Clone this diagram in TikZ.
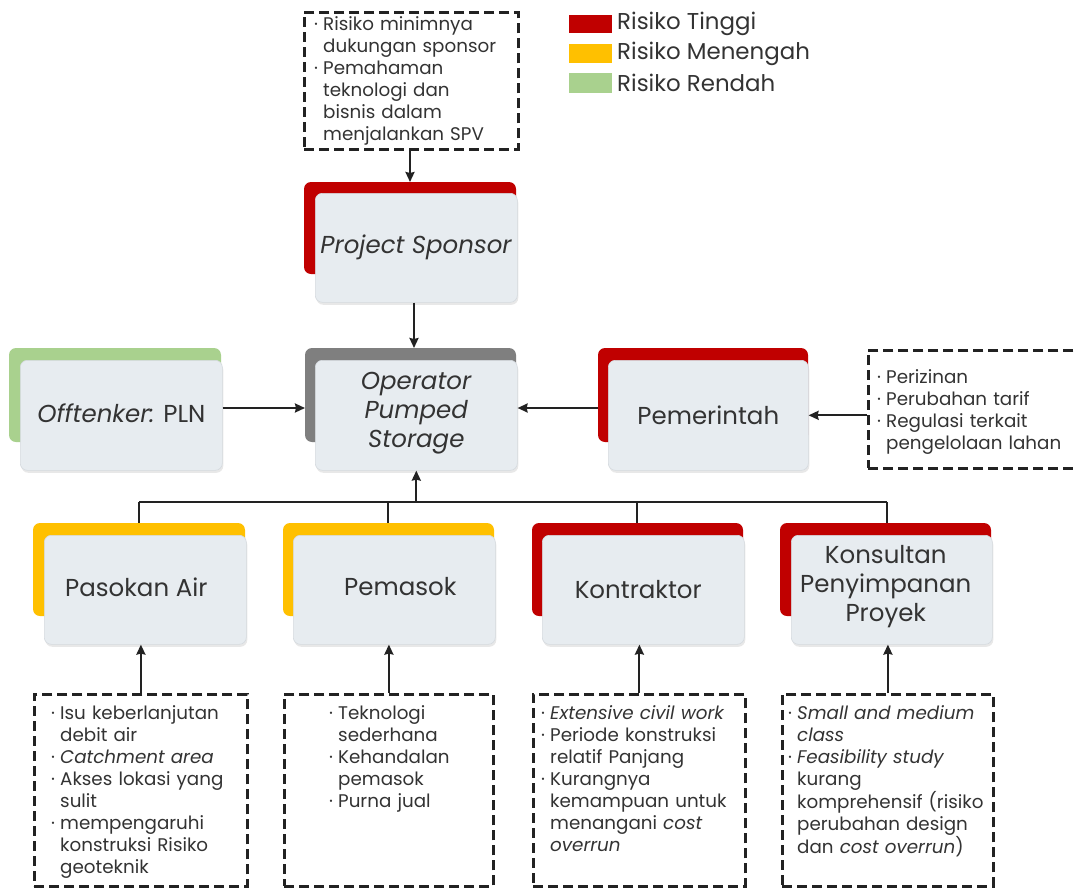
\documentclass[tikz,border=0pt]{standalone}
\usepackage{fontspec}
\setmainfont{Poppins}
\usetikzlibrary{arrows.meta,shadows,calc}
\definecolor{rTinggi}{HTML}{C00000}
\definecolor{rSedang}{HTML}{FFC000}
\definecolor{rRendah}{HTML}{A9D18E}
\definecolor{rNetral}{HTML}{7F7F7F}
\definecolor{frontfill}{HTML}{E7ECF0}
\definecolor{frontline}{HTML}{D5DADF}
\definecolor{ink}{HTML}{222222}
\definecolor{txt}{HTML}{333333}
\newcommand{\bfs}{\fontsize{18.3}{22}\selectfont}
\newcommand{\itm}[1]{\par\noindent\hangindent=9pt\hangafter=1\strut\makebox[9pt][l]{·}#1\par}
\tikzset{
  backbox/.style={rounded corners=7pt},
  frontbox/.style={draw=frontline, line width=0.6pt, fill=frontfill, rounded corners=7pt,
    drop shadow={opacity=0.18, shadow xshift=1pt, shadow yshift=-2.5pt}},
  maintext/.style={text=txt, font=\fontsize{24.5}{29}\selectfont, align=center},
  riskbox/.style={draw=ink, line width=2.8pt, dash pattern=on 10pt off 5pt},
  bultext/.style={text=txt, font=\bfs, align=left, inner sep=0pt, anchor=north west, text width=205pt},
  arr/.style={draw=ink, line width=2.1pt, -{Stealth[length=10pt,width=9pt,inset=1pt]}},
  bus/.style={draw=ink, line width=1.6pt},
  legtext/.style={text=txt, font=\fontsize{22.9}{26}\selectfont, anchor=west, inner sep=0pt},
}
\begin{document}
\begin{tikzpicture}[x=1pt,y=-1pt]
\useasboundingbox (0,0) rectangle (1077,889);
\fill[white] (0,0) rectangle (1077,889);

% legend
\fill[rTinggi] (569,15) rectangle (612,33);
\node[legtext] (lg1) at (617,24) {Risiko Tinggi};
\fill[rSedang] (569,44) rectangle (612,63);
\node[legtext] (lg2) at (617,54) {Risiko Menengah};
\fill[rRendah] (569,73) rectangle (612,93);
\node[legtext] (lg3) at (617,83) {Risiko Rendah};

% Project Sponsor
\path[backbox, fill=rTinggi] (304,182) rectangle (516,274);
\coordinate (psB) at (410,182);
\node[frontbox, minimum width=202pt, minimum height=109pt, anchor=north west] (ps) at (315,193) {};
\node[maintext] (pst) at (ps.center) {\textit{Project Sponsor}};

% Operator
\path[backbox, fill=rNetral] (305,348) rectangle (516,442);
\coordinate (opB) at (414,348);
\coordinate (opL) at (305,408);
\node[frontbox, minimum width=202pt, minimum height=110pt, anchor=north west] (op) at (315,360) {};
\node[maintext] (opt) at ($(op.center)+(0,-2)$) {\textit{Operator}\\\textit{Pumped}\\\textit{Storage}};

% Offtenker
\path[backbox, fill=rRendah] (9,348) rectangle (221,442);
\node[frontbox, minimum width=202pt, minimum height=110pt, anchor=north west] (off) at (20,360) {};
\node[maintext] (offt) at ($(off.center)+(0,-2)$) {\textit{Offtenker:} PLN};

% Pemerintah
\path[backbox, fill=rTinggi] (598,348) rectangle (808,442);
\coordinate (pemL) at (598,408);
\node[frontbox, minimum width=200pt, minimum height=110pt, anchor=north west] (pem) at (608,360) {};
\node[maintext] (pemt) at (pem.center) {Pemerintah};

% bottom row
\path[backbox, fill=rSedang] (33,523) rectangle (245,616);
\node[frontbox, minimum width=202pt, minimum height=109pt, anchor=north west] (pas) at (44,535) {};
\node[maintext] (past) at ($(pas.center)+(-9,-3)$) {Pasokan Air};

\path[backbox, fill=rSedang] (283,523) rectangle (494,616);
\node[frontbox, minimum width=202pt, minimum height=109pt, anchor=north west] (pms) at (293,535) {};
\node[maintext] (pmst) at ($(pms.center)+(6,-3)$) {Pemasok};

\path[backbox, fill=rTinggi] (532,523) rectangle (743,616);
\node[frontbox, minimum width=202pt, minimum height=109pt, anchor=north west] (kon) at (542,535) {};
\node[maintext] (kont) at ($(kon.center)+(-5,0)$) {Kontraktor};

\path[backbox, fill=rTinggi] (780,523) rectangle (991,616);
\node[frontbox, minimum width=201pt, minimum height=109pt, anchor=north west] (ksl) at (791,535) {};
\node[maintext] (kslt) at ($(ksl.center)+(-6,-3)$) {Konsultan\\Penyimpanan\\Proyek};

% risk boxes
\node[riskbox, minimum width=214pt, minimum height=137pt, anchor=north west] (r0) at (303,11) {};
\node[bultext] (r0t) at (314,8.5) {\itm{Risiko minimnya\newline dukungan sponsor}\itm{Pemahaman\newline teknologi dan\newline bisnis dalam\newline menjalankan SPV}};

\node[riskbox, minimum width=216pt, minimum height=118pt, anchor=north west] (r1) at (867,349) {};
\node[bultext] (r1t) at (877,361) {\itm{Perizinan}\itm{Perubahan tarif}\itm{Regulasi terkait\newline pengelolaan lahan}};

\node[riskbox, minimum width=213pt, minimum height=192pt, anchor=north west] (r2) at (33,693) {};
\node[bultext] (r2t) at (51,697.5) {\itm{Isu keberlanjutan\newline debit air}\itm{\textit{Catchment area}}\itm{Akses lokasi yang\newline sulit}\itm{mempengaruhi\newline konstruksi Risiko\newline geoteknik}};

\node[riskbox, minimum width=209pt, minimum height=192pt, anchor=north west] (r3) at (283,693) {};
\node[bultext] (r3t) at (329,697.5) {\itm{Teknologi\newline sederhana}\itm{Kehandalan\newline pemasok}\itm{Purna jual}};

\node[riskbox, minimum width=212pt, minimum height=192pt, anchor=north west] (r4) at (532,693) {};
\node[bultext] (r4t) at (541,697.5) {\itm{\textit{Extensive civil work}}\itm{Periode konstruksi\newline relatif Panjang}\itm{Kurangnya\newline kemampuan untuk\newline menangani \textit{cost}\newline \textit{overrun}}};

\node[riskbox, minimum width=211pt, minimum height=192pt, anchor=north west] (r5) at (781,693) {};
\node[bultext] (r5t) at (788,697.5) {\itm{\textit{Small and medium}\newline \textit{class}}\itm{\textit{Feasibility study}\newline kurang\newline komprehensif (risiko\newline perubahan design\newline dan \textit{cost overrun})}};

% connectors
\draw[arr] (r0.south -| psB) -- (psB);
\draw[arr] (ps.south -| opB) -- (opB);
\draw[arr] (off.east |- opL) -- (opL);
\draw[arr] (pemL) -- (op.east |- pemL);
\draw[arr] (r1.west |- pem.east) -- (pem.east);

\coordinate (busL) at (139,502);
\coordinate (busR) at (887,502);
\draw[bus] (busL) -- (busR);
\draw[bus] (busL) -- (139,523);
\draw[bus] (388,502) -- (388,523);
\draw[bus] (637,502) -- (637,523);
\draw[bus] (busR) -- (887,523);
\draw[arr] (op.south |- busL) -- (op.south);

\draw[arr] (r2.north) -- (r2.north |- pas.south);
\draw[arr] (r3.north) -- (r3.north |- pms.south);
\draw[arr] (r4.north) -- (r4.north |- kon.south);
\draw[arr] (r5.north) -- (r5.north |- ksl.south);
\end{tikzpicture}
\end{document}
